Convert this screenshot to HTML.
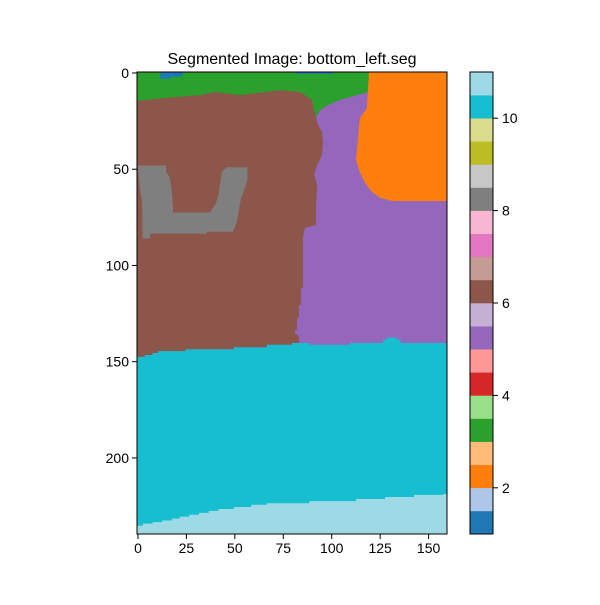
<!DOCTYPE html>
<html><head><meta charset="utf-8"><style>
body{margin:0;background:#fff;}
svg text{font-family:"Liberation Sans","DejaVu Sans",sans-serif;}
</style></head><body>
<svg id="chart" width="600" height="600" xmlns="http://www.w3.org/2000/svg">
<rect width="600" height="600" fill="#fff"/>
<text x="292" y="64" font-size="16" text-anchor="middle">Segmented Image: bottom_left.seg</text>
<g id="img"></g>
<g id="axes"></g>
<g id="cbar"></g>
</svg>
<script>
const xTicks=[0,25,50,75,100,125,150];
const yTicks=[0,50,100,150,200];
const cbTicks=[2,4,6,8,10];
const cbColors=["#1f77b4","#aec7e8","#ff7f0e","#ffbb78","#2ca02c","#98df8a","#d62728","#ff9896","#9467bd","#c5b0d5","#8c564b","#c49c94","#e377c2","#f7b6d2","#7f7f7f","#c7c7c7","#bcbd22","#dbdb8d","#17becf","#9edae5"];
const imgW=160, imgH=240;
const purpleRegion=[[92.4,23.4],[93.4,27.5],[95.5,31],[96,36.4],[95.5,43],[93,48.3],[91.4,53.5],[93,58.7],[92.4,69],[92.4,79.5],[86.7,81],[85.7,86],[85.7,112],[84.6,112],[84.6,121],[83.6,121],[83.6,127.7],[82.6,127.7],[82.6,134],[81.5,134],[81.5,136],[83.6,137],[83.6,146],[160,146],[160,10],[119,10.4],[110,13],[104.8,14.5],[99.6,16.6],[94.5,19.7]];
const greenRegion=[[0,0],[120,0],[119.2,10.4],[110,13],[104.8,14.5],[99.6,16.6],[94.5,19.7],[92.4,23.4],[91.4,19.7],[90.3,14.5],[86.7,12],[84.1,10.4],[73.8,9.4],[53.2,12],[40.3,10.4],[32.5,12],[19.6,13],[5.2,14.5],[0,15]];
const orangeRegion=[[119.7,0],[118.7,18.7],[115,24],[114,35.3],[113,45.7],[115,52],[117.7,57.6],[121.3,62.3],[125.4,65.4],[132,67],[160,67],[160,0]];
const grayRegion=[[0.5,48.6],[15,48.6],[15,51.6],[17,55],[18,62.3],[18.6,70.6],[18.6,73],[37.7,73],[40.3,69],[41.8,65],[43.8,51.6],[46.5,49.5],[57,49.5],[57,56.6],[53.7,65.4],[51.6,77.6],[49.5,83],[36,83],[36,84],[6.7,84],[6.7,86.5],[3,86.5],[2.6,67.6],[1.5,60.3],[0.5,50]];
const blueRegion=[[12.0,0],[23.7,0],[23.7,2.2],[17,2.8],[17,3.5],[12,3.5]];
const blue2Region=[[82,0],[101,0],[101,1],[82,1]];
const cyanX=[0,4,8,11,25,50,67,80,89,110,127,129,134,136,160];
const cyanTop=[148,147,146,145,144,143,141.7,140.8,141.7,140.8,139,138,139,140.8];
const lightX=[0,3,8,13,18,22,27,32,37,42,50,59,67,89,113,128,143,158,160];
const lightTop=[235.7,234.6,233.8,233,232,231,230,229,228,227,226,224.8,224,222.9,221.8,220.8,219.7,219.2];

const X0=137,X1=447,Y0=72,Y1=534;
const x=v=>X0+v*(X1-X0)/imgW;
const y=v=>Y0+v*(Y1-Y0)/imgH;
const NS="http://www.w3.org/2000/svg";
const img=document.getElementById('img'), axes=document.getElementById('axes'), cbar=document.getElementById('cbar');
function mk(tag,attrs,parent){const e=document.createElementNS(NS,tag);for(const k in attrs)e.setAttribute(k,attrs[k]);parent.appendChild(e);return e;}
function poly(pts,fill,name){
  const e=mk('polygon',{points:pts.map(p=>x(p[0])+','+y(p[1])).join(' '),fill:fill},img);
  
  
}
function steps(xs,tops){const pts=[];for(let i=0;i<tops.length;i++){pts.push([xs[i],tops[i]]);pts.push([xs[i+1],tops[i]]);}pts.push([imgW,imgH]);pts.push([0,imgH]);return pts;}
const bg=mk('rect',{x:x(0),y:y(0),width:x(imgW)-x(0),height:y(imgH)-y(0),fill:"#8c564b"},img);


poly(purpleRegion,"#9467bd",'purple-region');
poly(greenRegion,"#2ca02c",'green-region');
poly(orangeRegion,"#ff7f0e",'orange-region');
poly(grayRegion,"#7f7f7f",'gray-region');
poly(steps(cyanX,cyanTop),"#17becf",'cyan-region');
poly(steps(lightX,lightTop),"#9edae5",'light-cyan-region');
poly(blueRegion,"#1f77b4",'blue-region');
poly(blue2Region,"#1f77b4",'blue-region-2');
const fr=mk('rect',{x:X0,y:Y0,width:X1-X0,height:Y1-Y0,fill:'none',stroke:'#000','stroke-width':1},axes);


xTicks.forEach(v=>{const px=x(v+0.5);
  const t=mk('line',{x1:px,x2:px,y1:Y1,y2:Y1+5,stroke:'#000'},axes);
  
  
  const l=mk('text',{x:px,y:Y1+19,'font-size':14,'text-anchor':'middle'},axes);l.textContent=v;
  
  });
yTicks.forEach(v=>{const py=y(v+0.5);
  const t=mk('line',{x1:X0-5,x2:X0,y1:py,y2:py,stroke:'#000'},axes);
  
  
  const l=mk('text',{x:X0-8,y:py+5,'font-size':14,'text-anchor':'end'},axes);l.textContent=v;
  
  });
const CX0=470,CX1=493,cMin=1,cMax=11;
const cy=v=>Y1-(v-cMin)*(Y1-Y0)/(cMax-cMin);
const bandH=(cMax-cMin)/cbColors.length;
cbColors.forEach((c,i)=>{const r=mk('rect',{x:CX0,y:cy(cMin+(i+1)*bandH),width:CX1-CX0,height:cy(cMin+i*bandH)-cy(cMin+(i+1)*bandH)+0.3,fill:c},cbar);
  
  });
const cf=mk('rect',{x:CX0,y:Y0,width:CX1-CX0,height:Y1-Y0,fill:'none',stroke:'#000'},cbar);


cbTicks.forEach(v=>{const py=cy(v);
  const t=mk('line',{x1:CX1,x2:CX1+5,y1:py,y2:py,stroke:'#000'},cbar);
  
  
  const l=mk('text',{x:CX1+9,y:py+5,'font-size':14},cbar);l.textContent=v;
  
  });
</script>
</body></html>
